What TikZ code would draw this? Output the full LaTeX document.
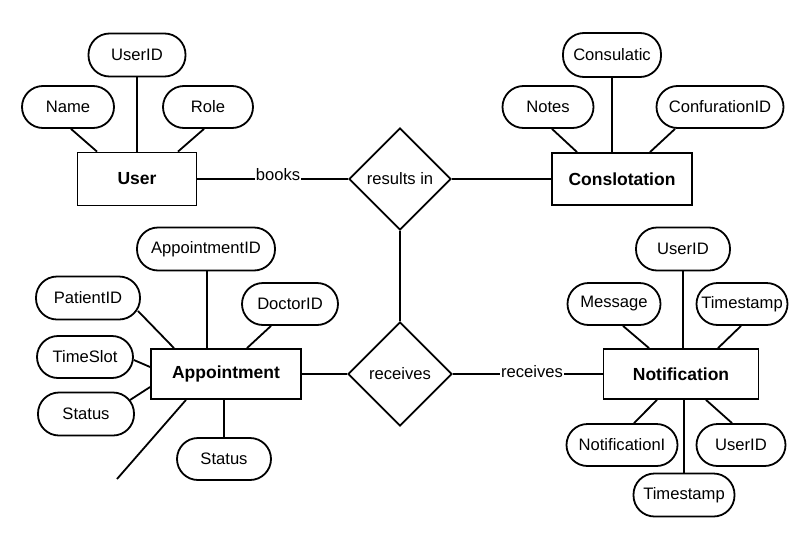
\documentclass[tikz,border=0pt]{standalone}
\usepackage{fontspec}
\setmainfont{Liberation Sans}
\usetikzlibrary{shapes.geometric}
\begin{document}
\begin{tikzpicture}[x=1pt,y=-1pt,
  every node/.style={font=\fontsize{16.6}{19}\selectfont},
  attr/.style={draw,line width=1.8pt,rectangle,rounded corners=21pt,minimum height=42pt,inner sep=0pt},
  ent/.style={draw,line width=1.8pt,rectangle,inner sep=0pt,font=\fontsize{17.5}{20}\selectfont\bfseries},
  rel/.style={draw,line width=1.8pt,diamond,inner sep=0pt,aspect=1},
  lbl/.style={inner sep=1pt},
  conn/.style={line width=1.8pt}]
\useasboundingbox (0,0) rectangle (800,533);
% User
\node[ent,minimum width=119pt,minimum height=53pt] (user) at (137,179) {User};
\node[attr,minimum width=97pt,minimum height=43pt] (uid) at (137,55) {UserID};
\node[attr,minimum width=92pt] (name) at (68,107) {Name};
\node[attr,minimum width=90pt] (role) at (208,107) {Role};
\draw[conn] (uid.south) -- (user.north);
\draw[conn] ([shift={(3,0)}]name.south) -- ([shift={(-40,0)}]user.north);
\draw[conn] ([shift={(-4,0)}]role.south) -- ([shift={(41,0)}]user.north);
% results in
\node[rel,minimum width=102pt,minimum height=102pt] (res) at (400,179) {results in};
\node[lbl] (books) at (278,175) {books};
\draw[conn] (user.east) -- (user.east -| books.west);
\draw[conn] (res.west -| books.east) -- (res.west);
% Conslotation
\node[ent,minimum width=140pt,minimum height=52pt] (cons) at (622,179) {Conslotation};
\node[attr,minimum width=98pt,minimum height=44pt] (consu) at (612,55) {Consulatic};
\node[attr,minimum width=91pt] (notes) at (548,107) {Notes};
\node[attr,minimum width=127pt] (confid) at (720,107) {ConfurationID};
\draw[conn] (res.east) -- (cons.west);
\draw[conn] (consu.south) -- (consu.south |- cons.north);
\draw[conn] ([shift={(4,0)}]notes.south) -- ([shift={(-45,0)}]cons.north);
\draw[conn] ([shift={(-45,0)}]confid.south) -- ([shift={(28,0)}]cons.north);
% receives
\node[rel,minimum width=104pt,minimum height=104pt] (rec) at (400,374) {receives};
\draw[conn] (res.south) -- (rec.north);
% Appointment
\node[ent,minimum width=150pt,minimum height=50pt] (appt) at (226,374) {Appointment};
\node[attr,minimum width=138pt,minimum height=43pt] (aid) at (206,249) {AppointmentID};
\node[attr,minimum width=104pt,minimum height=43pt] (pid) at (88,298) {PatientID};
\node[attr,minimum width=96pt] (did) at (290,304) {DoctorID};
\node[attr,minimum width=96pt] (tslot) at (85,357) {TimeSlot};
\node[attr,minimum width=96pt,minimum height=43pt] (st1) at (86,414) {Status};
\node[attr,minimum width=94pt] (st2) at (224,459) {Status};
\coordinate (dang) at (117,479);
\draw[conn] (appt.east) -- (rec.west);
\draw[conn] ([shift={(1,0)}]aid.south) -- ([shift={(-19,0)}]appt.north);
\draw[conn] ([shift={(50,13)}]pid.center) -- ([shift={(-52,0)}]appt.north);
\draw[conn] ([shift={(-19,0)}]did.south) -- ([shift={(21,0)}]appt.north);
\draw[conn] ([shift={(0,3)}]tslot.east) -- ([shift={(0,-7)}]appt.west);
\draw[conn] ([shift={(44,-14)}]st1.center) -- ([shift={(0,13)}]appt.west);
\draw[conn] (st2.north) -- (st2.north |- appt.south);
\draw[conn] ([shift={(-40,0)}]appt.south) -- (dang);
% Notification
\node[ent,minimum width=155pt,minimum height=50pt] (notif) at (681,374) {Notification};
\node[lbl] (recv) at (532,372) {receives};
\draw[conn] (rec.east) -- (rec.east -| recv.west);
\draw[conn] (notif.west -| recv.east) -- (notif.west);
\node[attr,minimum width=94pt,minimum height=43pt] (nuid) at (683,249) {UserID};
\node[attr,minimum width=93pt] (msg) at (614,304) {Message};
\node[attr,minimum width=91pt] (tsr) at (742,304) {Timestamp};
\node[attr,minimum width=111pt] (nid) at (622,445) {NotificationI};
\node[attr,minimum width=89pt] (nuid2) at (741,445) {UserID};
\node[attr,minimum width=101pt,minimum height=43pt] (tsb) at (684,495) {Timestamp};
\draw[conn] (nuid.south) -- (nuid.south |- notif.north);
\draw[conn] ([shift={(9,0)}]msg.south) -- ([shift={(-32,0)}]notif.north);
\draw[conn] ([shift={(-1,0)}]tsr.south) -- ([shift={(37,0)}]notif.north);
\draw[conn] ([shift={(12,0)}]nid.north) -- ([shift={(-24,0)}]notif.south);
\draw[conn] ([shift={(-9,0)}]nuid2.north) -- ([shift={(25,0)}]notif.south);
\draw[conn] (tsb.north) -- (tsb.north |- notif.south);
\end{tikzpicture}
\end{document}
